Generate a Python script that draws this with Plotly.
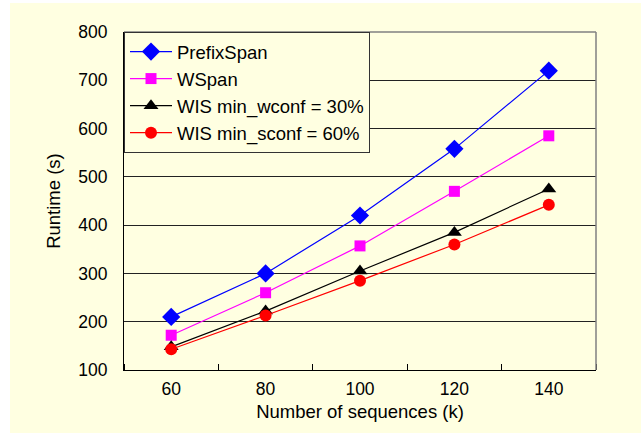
import plotly.graph_objects as go

x_vals = [60, 80, 100, 120, 140]
prefixspan = [210, 300, 420, 558, 720]
wspan = [172, 260, 357, 470, 585]
wis_wconf = [148, 222, 305, 385, 475]
wis_sconf = [143, 213, 285, 360, 442]

names = ["PrefixSpan", "WSpan", "WIS min_wconf = 30%", "WIS min_sconf = 60%"]
series = [prefixspan, wspan, wis_wconf, wis_sconf]
colors = ["#0000FF", "#FF00FF", "#000000", "#FF0000"]
symbols = ["diamond", "square", "triangle-up", "circle"]
sizes = [14, 11, 13, 12]

BG = "#FFFFE1"
FONT = "Liberation Sans, Arial, sans-serif"

fig = go.Figure()
for n, s, c, sym, sz in zip(names, series, colors, symbols, sizes):
    fig.add_trace(go.Scatter(
        x=x_vals, y=s, name=n, mode="lines+markers",
        line=dict(color=c, width=1.2),
        marker=dict(symbol=sym, size=sz, color=c, line=dict(width=0)),
    ))

L, R, T, B = 124, 45, 32, 65
W, H = 641, 435
pw, ph = W - L - R, H - T - B

def px(xp):
    return (xp - L) / pw

def py(yp):
    return (H - B - yp) / ph

fig.update_layout(
    width=W, height=H,
    margin=dict(l=L, r=R, t=T, b=B),
    paper_bgcolor="white",
    plot_bgcolor="rgba(0,0,0,0)",
    font=dict(family=FONT, size=17.5, color="black"),
    showlegend=True,
    legend=dict(
        x=0, y=1, xanchor="left", yanchor="top",
        bgcolor=BG, bordercolor="#333333", borderwidth=1,
        font=dict(family=FONT, size=18.5, color="black"),
        tracegroupgap=0, itemwidth=42,
    ),
    xaxis=dict(
        range=[50, 150], tickvals=x_vals, ticks="",
        showgrid=False, zeroline=False,
        showline=True, linecolor="black", linewidth=1.2,
        minor=dict(tick0=50, dtick=20, ticks="inside", ticklen=6,
                   tickcolor="black", showgrid=False),
        title=dict(text="Number of sequences (k)", font=dict(size=18.5), standoff=6),
        ticklabelstandoff=3,
    ),
    yaxis=dict(
        range=[100, 800], dtick=100, tick0=100,
        showgrid=True, gridcolor="#222222", gridwidth=1,
        zeroline=False,
        showline=True, linecolor="black", linewidth=1.2,
        ticks="", ticklabelstandoff=12,
        title=dict(text="Runtime (s)", font=dict(size=18.5), standoff=12),
    ),
    shapes=[
        dict(type="rect", xref="paper", yref="paper",
             x0=px(10), x1=px(641), y0=py(433), y1=py(3),
             fillcolor=BG, line=dict(width=0), layer="below"),
        dict(type="line", xref="paper", yref="paper",
             x0=0, x1=1, y0=1, y1=1,
             line=dict(color="#808080", width=1.5), layer="above"),
        dict(type="line", xref="paper", yref="paper",
             x0=1, x1=1, y0=0, y1=1,
             line=dict(color="#808080", width=1.5), layer="above"),
    ],
)

fig.write_html("out.html")
